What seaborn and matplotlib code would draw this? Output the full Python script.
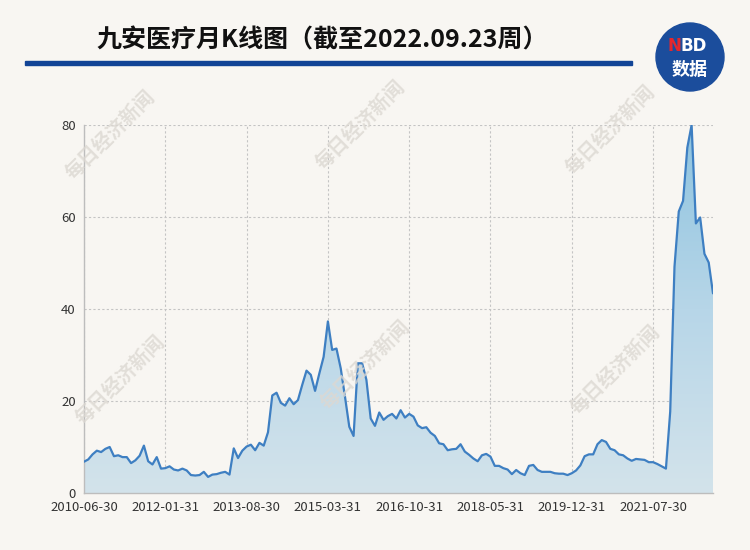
import numpy as np
import pandas as pd
import matplotlib
matplotlib.use('Agg')
import matplotlib.pyplot as plt
import seaborn as sns
from matplotlib.colors import LinearSegmentedColormap
from matplotlib.patches import Polygon, Ellipse, Rectangle

#----------------- data (monthly close, 2010-06 .. 2022-09) -----------------
prices = [
    6.8, 7.3, 8.4, 9.2, 8.9, 9.6, 10.0, 8.0, 8.2, 7.8,
    7.8, 6.5, 7.1, 8.1, 10.3, 6.9, 6.2, 7.8, 5.3, 5.4,
    5.8, 5.1, 4.9, 5.3, 4.9, 3.9, 3.8, 3.9, 4.6, 3.5,
    4.0, 4.1, 4.4, 4.6, 4.0, 9.7, 7.6, 9.2, 10.1, 10.5,
    9.3, 10.9, 10.3, 13.2, 21.2, 21.8, 19.6, 19.0, 20.6, 19.3,
    20.2, 23.5, 26.6, 25.7, 22.2, 26.0, 29.6, 37.3, 31.1, 31.4,
    27.1, 20.9, 14.4, 12.4, 28.2, 28.2, 24.6, 16.2, 14.6, 17.5,
    15.9, 16.7, 17.2, 16.2, 18.0, 16.4, 17.2, 16.6, 14.7, 14.1,
    14.3, 13.1, 12.4, 10.8, 10.6, 9.3, 9.5, 9.6, 10.6, 9.0,
    8.3, 7.5, 6.9, 8.2, 8.5, 7.9, 5.9, 5.9, 5.4, 5.1,
    4.1, 5.0, 4.3, 3.9, 5.9, 6.1, 5.0, 4.6, 4.6, 4.6,
    4.3, 4.2, 4.2, 3.9, 4.3, 4.9, 6.0, 8.0, 8.4, 8.4,
    10.6, 11.5, 11.1, 9.6, 9.3, 8.4, 8.2, 7.5, 7.0, 7.4,
    7.3, 7.2, 6.7, 6.7, 6.3, 5.8, 5.3, 17.7, 49.2, 61.2,
    63.5, 75.1, 80.0, 58.6, 59.9, 52.0, 50.1, 43.4,
]
tick_pos = [0, 19, 38, 57, 76, 95, 114, 133]
tick_labels = ['2010-06-30', '2012-01-31', '2013-08-30', '2015-03-31',
               '2016-10-31', '2018-05-31', '2019-12-31', '2021-07-30']
y_ticks = [0, 20, 40, 60, 80]
title = '九安医疗月K线图（截至2022.09.23周）'
watermark = '每日经济新闻'

df = pd.DataFrame({'m': np.arange(len(prices)), 'price': prices})

#----------------- style -----------------
bg = '#f8f6f2'
sns.set_style('white')
plt.rcParams['font.family'] = ['Noto Sans CJK SC', 'DejaVu Sans']

fig = plt.figure(figsize=(7.5, 5.5), dpi=100, facecolor=bg)
ax = fig.add_axes([84 / 750, 57 / 550, 629 / 750, 368 / 550])
ax.set_facecolor(bg)

# gradient area under line
xs = df['m'].values
ys = df['price'].values
verts = np.column_stack([np.r_[xs, xs[-1], xs[0]], np.r_[ys, 0, 0]])
clip = Polygon(verts, closed=True, facecolor='none', edgecolor='none')
ax.add_patch(clip)
cmap = LinearSegmentedColormap.from_list('g', ['#d3e3eb', '#b7d6e8', '#8ec3df'])
grad = np.linspace(0, 1, 256).reshape(-1, 1)
im = ax.imshow(grad, aspect='auto', cmap=cmap, origin='lower',
               extent=[xs[0], xs[-1], 0, 80], zorder=1)
im.set_clip_path(clip)

sns.lineplot(data=df, x='m', y='price', ax=ax, color='#3e7fc2', linewidth=1.6, zorder=3)

ax.set_xlim(xs[0], xs[-1])
ax.set_ylim(0, 80)
ax.set_xticks(tick_pos)
ax.set_xticklabels(tick_labels)
ax.set_yticks(y_ticks)
ax.set_xlabel('')
ax.set_ylabel('')
ax.tick_params(length=0, labelsize=9.5, colors='#333333', pad=6)
ax.grid(True, linestyle=(0, (2, 2)), color='#c4c4c4', linewidth=0.8)
ax.set_axisbelow(True)
for s in ['top', 'right']:
    ax.spines[s].set_visible(False)
for s in ['left', 'bottom']:
    ax.spines[s].set_color('#bdbdbd')
    ax.spines[s].set_linewidth(1)

#----------------- header -----------------
fig.text(322 / 750, 1 - 40 / 550, title, ha='center', va='center',
         fontsize=18, fontweight='bold', color='#111111')
fig.patches.append(Rectangle((25 / 750, 1 - 65 / 550), 607 / 750, 4 / 550,
                             transform=fig.transFigure, color='#124496'))
# NBD logo (round: same pixel size in both directions)
fig.patches.append(Ellipse((690 / 750, 1 - 57 / 550), 68 / 750, 68 / 550,
                           transform=fig.transFigure, color='#1b4d9c'))
fig.text(681 / 750, 1 - 46 / 550, 'N', ha='right', va='center', fontsize=12,
         fontweight='bold', color='#e5262c', family='DejaVu Sans')
fig.text(681 / 750, 1 - 46 / 550, 'BD', ha='left', va='center', fontsize=12,
         fontweight='bold', color='white', family='DejaVu Sans')
fig.text(690 / 750, 1 - 69 / 550, '数据', ha='center', va='center', fontsize=13,
         fontweight='bold', color='white')

# watermarks
for wx, wy in [(110, 135), (360, 125), (610, 130), (120, 380), (365, 365), (615, 370)]:
    fig.text(wx / 750, 1 - wy / 550, watermark, rotation=45, ha='center', va='center',
             fontsize=14, fontweight='bold', color='#dcd8d2', alpha=0.8, zorder=0.5)

fig.savefig('out.png', dpi=100, facecolor=bg)
